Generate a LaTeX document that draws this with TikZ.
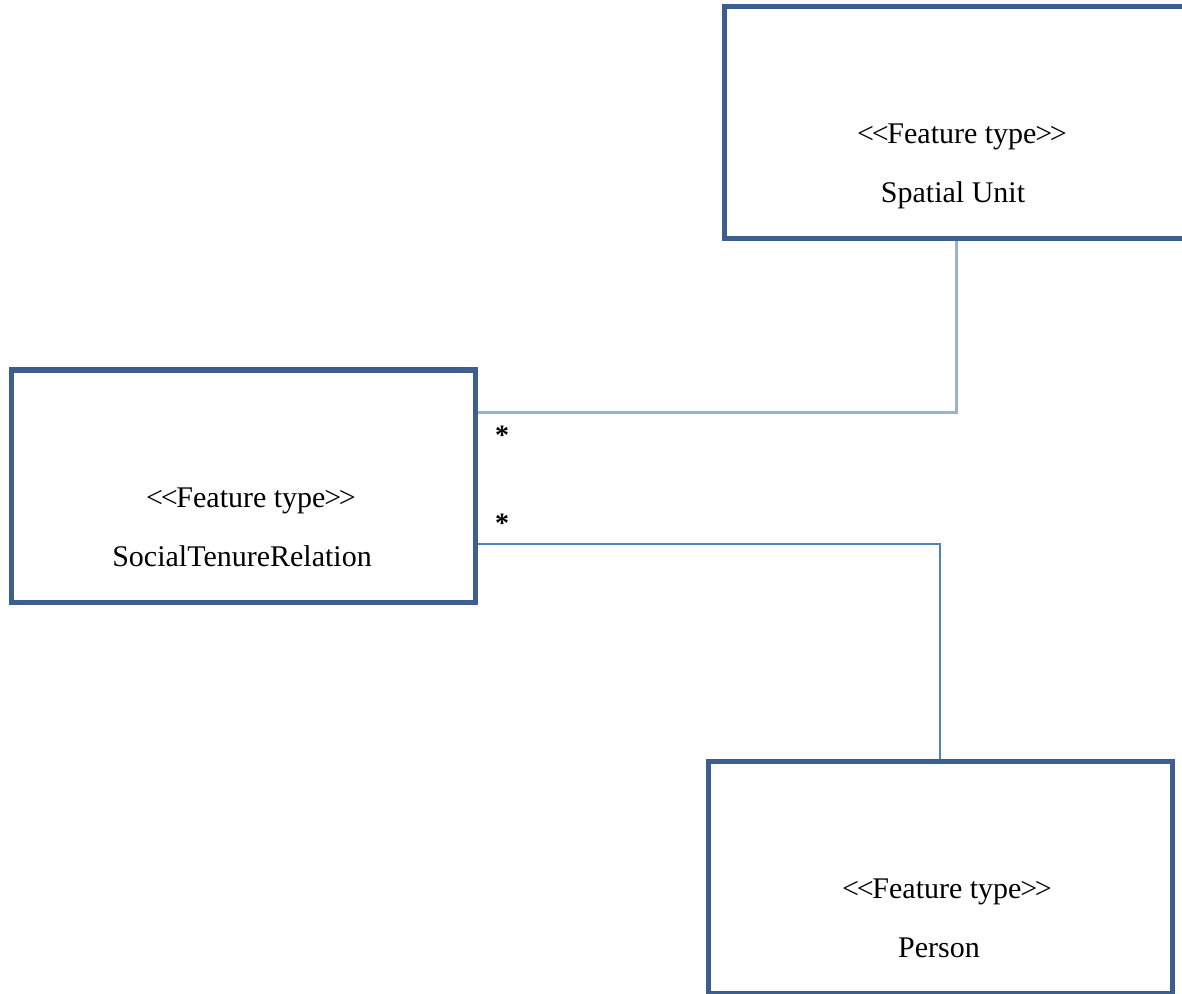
\documentclass[tikz,border=0pt]{standalone}
\usepackage{fontspec}
\setmainfont{Liberation Serif}
\usetikzlibrary{calc}
\definecolor{boxblue}{HTML}{3D5F8D}
\definecolor{lineA}{HTML}{95B3D7}
\definecolor{lineB}{HTML}{4F81BD}
\newcommand{\stereo}[1]{<\kern-1.2pt<\kern-0.6pt#1\kern-0.6pt>\kern-1.2pt>}
\begin{document}
\begin{tikzpicture}[x=0.5pt,y=-0.5pt,
  featbox/.style={draw=boxblue,line width=2.5pt,minimum width=232pt,minimum height=116pt,inner sep=0pt,fill=white},
  boxtext/.style={anchor=base,inner sep=0pt,font=\fontsize{15}{18}\selectfont},
  mult/.style={inner sep=0pt,font=\fontsize{14}{16}\selectfont\bfseries},
  conA/.style={draw=lineA,line width=1.5pt},
  conB/.style={draw=lineB,line width=1pt}]
\fill[white] (0,0) rectangle (1182,994);
\useasboundingbox (0,0) rectangle (1182,994);
% boxes
\node[featbox] (SU) at (956,123) {};
\node[featbox] (STR) at (243.5,486) {};
\node[featbox] (P) at (940,877) {};
% texts
\node[boxtext] (SUs) at (962,144) {\stereo{Feature type}};
\node[boxtext] (SUn) at (953,203) {Spatial Unit};
\node[boxtext] (STRs) at (251,507) {\stereo{Feature type}};
\node[boxtext] (STRn) at (242,566) {SocialTenureRelation};
\node[boxtext] (Ps) at (947,898) {\stereo{Feature type}};
\node[boxtext] (Pn) at (939,957) {Person};
% connectors
\draw[conA] ($(STR.east)+(0,-74)$) -| (SU.south);
\draw[conB] ($(STR.east)+(0,58)$) -| (P.north);
% multiplicities
\node[mult] (m1) at ($(STR.east)+(24,-51)$) {*};
\node[mult] (m2) at ($(STR.east)+(24,37)$) {*};
\end{tikzpicture}
\end{document}
